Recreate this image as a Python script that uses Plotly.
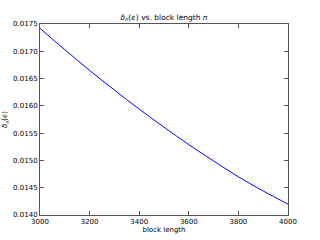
import plotly.graph_objects as go

block_length = [3000, 3100, 3200, 3300, 3400, 3500, 3600, 3700, 3800, 3900, 4000]
delta_n = [0.01742, 0.01703, 0.01665, 0.01629, 0.01594, 0.01561, 0.01529, 0.01499, 0.01470, 0.01444, 0.01420]

x_ticks = [3000, 3200, 3400, 3600, 3800, 4000]
y_ticks = [0.0140, 0.0145, 0.0150, 0.0155, 0.0160, 0.0165, 0.0170, 0.0175]

FONT = "DejaVu Sans"

fig = go.Figure()
fig.add_trace(go.Scatter(
    x=block_length, y=delta_n, mode="lines",
    line=dict(color="#0000ff", width=1, shape="spline"),
    showlegend=False, hoverinfo="skip",
))

axis_common = dict(
    showgrid=False, zeroline=False, automargin=False,
    showline=True, linecolor="#555555", linewidth=1, mirror="ticks",
    ticks="inside", ticklen=4, tickcolor="#555555", tickwidth=1,
    tickfont=dict(family=FONT, size=7, color="black"),
)

fig.update_layout(
    width=320, height=240,
    paper_bgcolor="white", plot_bgcolor="white",
    margin=dict(l=40, r=32, t=24, b=25),
    title=dict(
        text="<i>δ</i><sub><i>n</i></sub>(<i>ϵ</i>) vs. block length <i>n</i>",
        x=0.5, xref="paper", xanchor="center",
        y=1 - 17 / 240, yref="container", yanchor="middle",
        font=dict(family=FONT, size=7.5, color="black"),
    ),
    xaxis=dict(
        range=[3000, 4000], tickvals=x_ticks,
        ticktext=[str(v) for v in x_ticks],
        title=dict(text="block length", standoff=0,
                   font=dict(family=FONT, size=7, color="black")),
        **axis_common,
    ),
    yaxis=dict(
        range=[0.0140, 0.0175], tickvals=y_ticks,
        ticktext=[f"{v:.4f}" for v in y_ticks],
        title=dict(text="<i>δ</i><sub><i>n</i></sub>(<i>ϵ</i>)", standoff=4,
                   font=dict(family=FONT, size=7, color="black")),
        **axis_common,
    ),
)

fig.write_html(
    "out.html",
    config={"displayModeBar": False},
    post_script="document.body.style.margin='0';document.body.style.overflow='hidden';",
)
